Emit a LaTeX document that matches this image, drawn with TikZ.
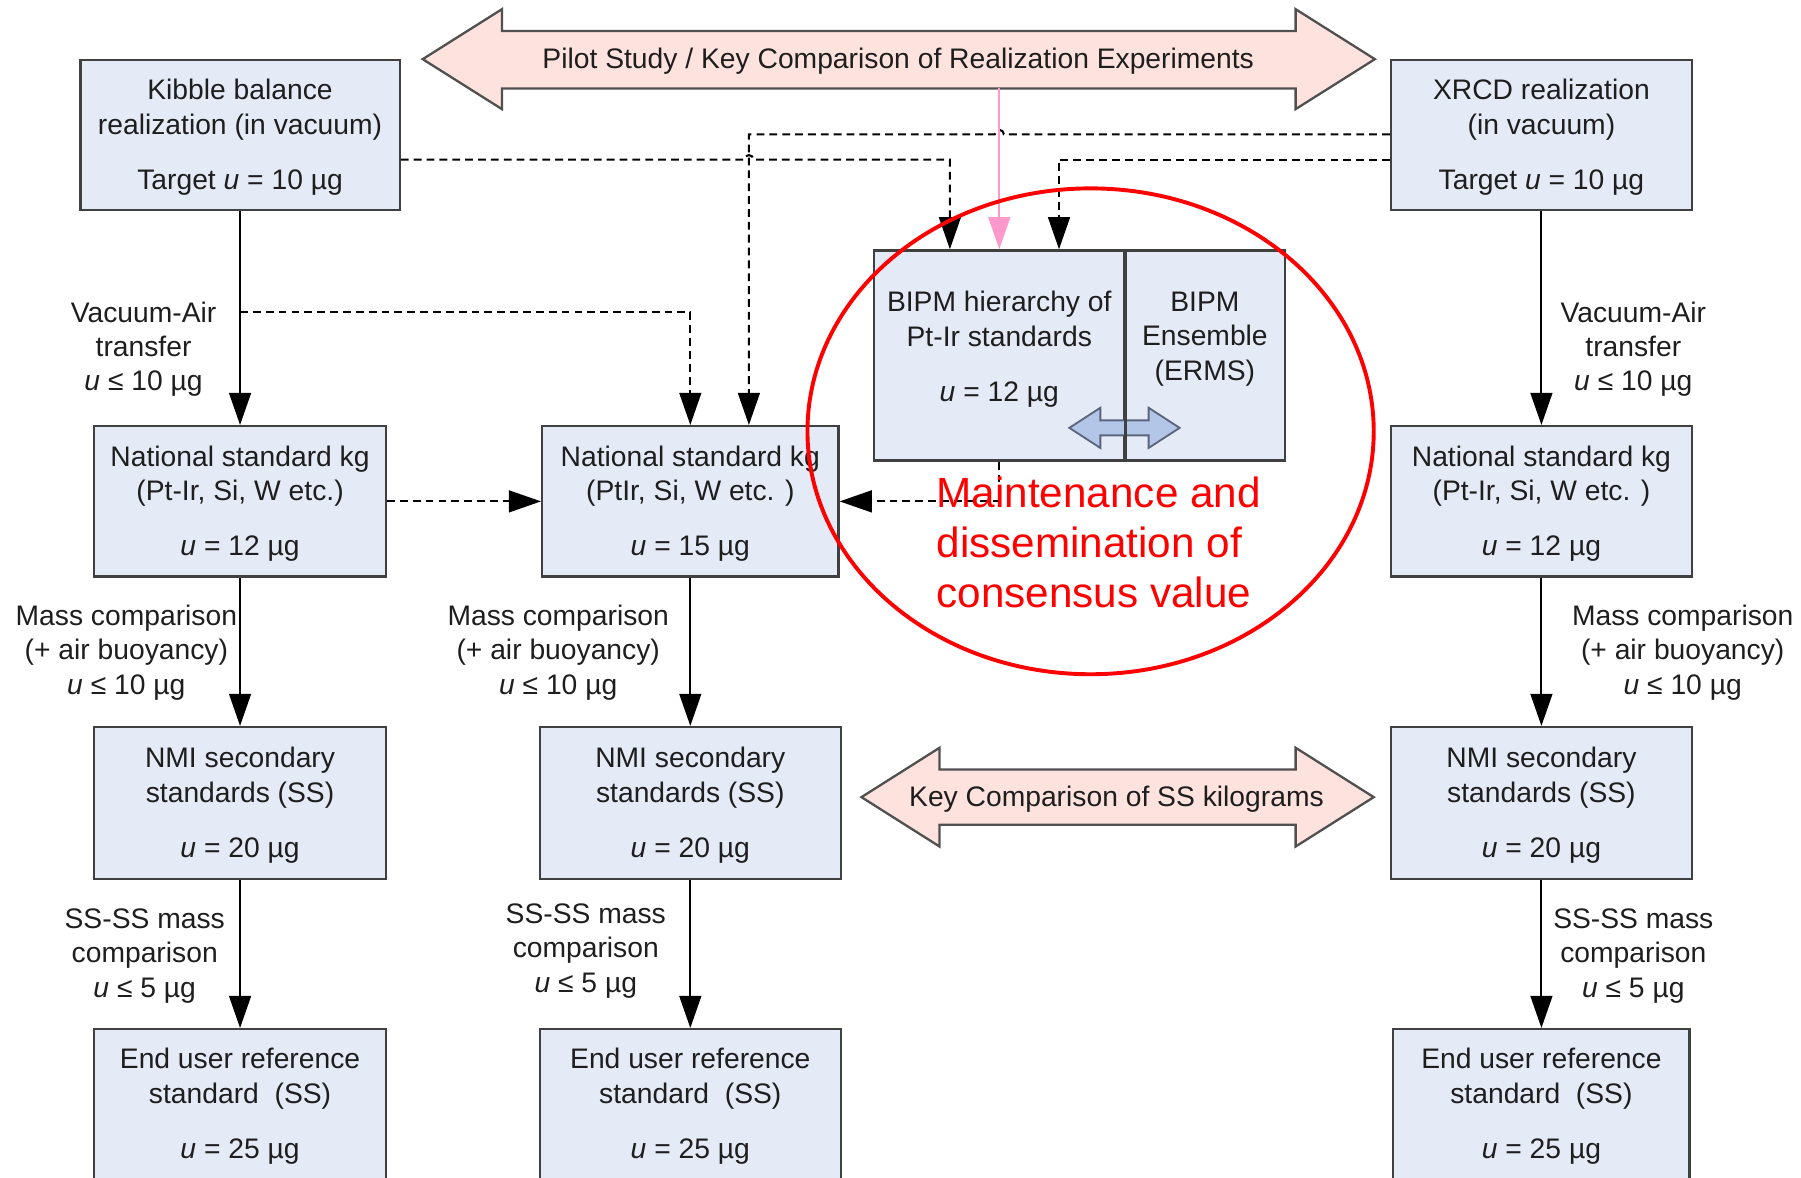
\documentclass[tikz,border=0pt]{standalone}
\usepackage{fontspec}
\setmainfont{Liberation Sans}
\usetikzlibrary{arrows.meta,fit}
\definecolor{boxfill}{RGB}{228,234,246}
\definecolor{boxline}{RGB}{64,64,64}
\definecolor{pinkfill}{RGB}{253,226,222}
\definecolor{arrline}{RGB}{80,80,80}
\definecolor{bluefill}{RGB}{180,198,231}
\definecolor{blueline}{RGB}{90,100,125}
\definecolor{pinkline}{RGB}{255,153,204}
\definecolor{txt}{RGB}{30,30,30}
\newcommand\uu{\textit{u}}
\begin{document}
\begin{tikzpicture}[x=0.5pt,y=-0.5pt,
  every node/.style={font=\fontsize{12.3pt}{15pt}\selectfont, text=txt},
  box/.style={draw=boxline, line width=1pt, fill=boxfill, inner sep=0pt},
  lbl/.style={align=center, inner sep=0pt},
  solidc/.style={draw=black, line width=0.9pt, -{Triangle[length=14pt,width=9.5pt]}},
  dashc/.style={draw=black, line width=0.9pt, dash pattern=on 3.4pt off 2.2pt, -{Triangle[length=14pt,width=9.5pt]}},
  pinkc/.style={draw=pinkline, line width=0.9pt, -{Triangle[length=14pt,width=9.5pt]}},
  bigarrow/.style={fill=pinkfill, draw=arrline, line width=1pt},
  redtext/.style={text=red, font=\fontsize{18.4pt}{21.75pt}\selectfont, align=left, inner sep=0pt}
]
\useasboundingbox (0,0) rectangle (1568,1025);
\clip (0,0) rectangle (1568,1025);

% boxes
\node[box, fit={(70,52)(348,183)}] (kib) {};
\node[box, fit={(1211,52)(1473,183)}] (xrcd) {};
\node[box, fit={(82,371)(336,502)}] (natL) {};
\node[box, fit={(472,371)(730,502)}] (natC) {};
\node[box, fit={(1211,371)(1473,502)}] (natR) {};
\node[box, fit={(82,633)(336,765)}] (nmiL) {};
\node[box, fit={(470,633)(732,765)}] (nmiC) {};
\node[box, fit={(1211,633)(1473,765)}] (nmiR) {};
\node[box, fit={(82,896)(336,1027)}] (endL) {};
\node[box, fit={(470,896)(732,1027)}] (endC) {};
\node[box, fit={(1213,896)(1471,1027)}] (endR) {};

\node[lbl] (kibt) at ([yshift=-1pt]kib.center) {Kibble balance\\realization (in vacuum)\\[9pt]Target \uu{} = 10 µg};
\node[lbl] (xrcdt) at ([yshift=-1pt]xrcd.center) {XRCD realization\\(in vacuum)\\[9pt]Target \uu{} = 10 µg};
\node[lbl] (natLt) at ([yshift=-1pt]natL.center) {National standard kg\\(Pt-Ir, Si, W etc.)\\[9pt]\uu{} = 12 µg};
\node[lbl] (natCt) at ([yshift=-1pt]natC.center) {National standard kg\\(PtIr, Si, W etc. )\\[9pt]\uu{} = 15 µg};
\node[lbl] (natRt) at ([yshift=-1pt]natR.center) {National standard kg\\(Pt-Ir, Si, W etc. )\\[9pt]\uu{} = 12 µg};
\node[lbl] (nmiLt) at ([yshift=-1pt]nmiL.center) {NMI secondary\\standards (SS)\\[9pt]\uu{} = 20 µg};
\node[lbl] (nmiCt) at ([yshift=-1pt]nmiC.center) {NMI secondary\\standards (SS)\\[9pt]\uu{} = 20 µg};
\node[lbl] (nmiRt) at ([yshift=-1pt]nmiR.center) {NMI secondary\\standards (SS)\\[9pt]\uu{} = 20 µg};
\node[lbl] (endLt) at (209,963) {End user reference\\standard~~(SS)\\[9pt]\uu{} = 25 µg};
\node[lbl] (endCt) at (601,963) {End user reference\\standard~~(SS)\\[9pt]\uu{} = 25 µg};
\node[lbl] (endRt) at (1342,963) {End user reference\\standard~~(SS)\\[9pt]\uu{} = 25 µg};

% BIPM
\node[box, fit={(761,218)(979,401)}] (bipmL) {};
\node[box, fit={(979,218)(1119,401)}] (bipmR) {};
\node[lbl] (bipmLt) at (870,304) {BIPM hierarchy of\\Pt-Ir standards\\[9pt]\uu{} = 12 µg};
\node[lbl] (bipmRt) at (1049,295) {BIPM\\Ensemble\\(ERMS)};

% big double arrows
\path[bigarrow] (368,51.5) -- (437,8) -- (437,27) -- (1128,27) -- (1128,8) -- (1197,51.5) -- (1128,95) -- (1128,77) -- (437,77) -- (437,95) -- cycle;
\node[lbl] (pilot) at (782,53) {Pilot Study / Key Comparison of Realization Experiments};
\coordinate (pilotbot) at (870,77);
\path[bigarrow] (750,694) -- (818,651) -- (818,670) -- (1128,670) -- (1128,651) -- (1196,694) -- (1128,737) -- (1128,718) -- (818,718) -- (818,737) -- cycle;
\node[lbl] (kcss) at (972,696) {Key Comparison of SS kilograms};

% labels
\node[lbl] (vaL) at (125,304) {Vacuum-Air\\transfer\\\uu{} ≤ 10 µg};
\node[lbl] (vaR) at (1422,304) {Vacuum-Air\\transfer\\\uu{} ≤ 10 µg};
\node[lbl] (mcL) at (110,568) {Mass comparison\\(+ air buoyancy)\\\uu{} ≤ 10 µg};
\node[lbl] (mcC) at (486,568) {Mass comparison\\(+ air buoyancy)\\\uu{} ≤ 10 µg};
\node[lbl] (mcR) at (1465,568) {Mass comparison\\(+ air buoyancy)\\\uu{} ≤ 10 µg};
\node[lbl] (ssL) at (126,832) {SS-SS mass\\comparison\\\uu{} ≤ 5 µg};
\node[lbl] (ssC) at (510,828) {SS-SS mass\\comparison\\\uu{} ≤ 5 µg};
\node[lbl] (ssR) at (1422,832) {SS-SS mass\\comparison\\\uu{} ≤ 5 µg};

% solid connectors
\draw[solidc] (kib.south) -- (natL.north);
\draw[solidc] (natL.south) -- (nmiL.north);
\draw[solidc] (nmiL.south) -- (endL.north);
\draw[solidc] (natC.south) -- (nmiC.north);
\draw[solidc] (nmiC.south) -- (endC.north);
\draw[solidc] (xrcd.south) -- (natR.north);
\draw[solidc] (natR.south) -- (nmiR.north);
\draw[solidc] (nmiR.south) -- (endR.north);

% dashed connectors
\coordinate (va) at (kib.south |- 0,272);
\draw[dashc] (va) -| (natC.north);
\draw[dashc] (natL.east) -- (natC.west);
\draw[dashc] (bipmL.south) |- (natC.east);
\draw[dashc] (kib.east |- 0,139) -- (648,139) arc[start angle=180,end angle=0,radius=2pt] -- (827,139) -- (bipmL.north -| 827,0);
\draw[dashc] (xrcd.west |- 0,117) -- (874,117) arc[start angle=0,end angle=180,radius=2pt] -- (652,117) -- (natC.north -| 652,0);
\draw[dashc] (xrcd.west |- 0,139) -- (922,139) -- (bipmL.north -| 922,0);
\draw[pinkc] (pilotbot) -- (bipmL.north -| pilotbot);

% small blue double arrow
\filldraw[fill=bluefill, draw=blueline, line width=0.8pt] (931,372.5) -- (958,355) -- (958,366) -- (1000,366) -- (1000,355) -- (1027,372.5) -- (1000,390) -- (1000,379) -- (958,379) -- (958,390) -- cycle;
\draw[draw=boxline, line width=1pt] (bipmL.north east) -- (bipmL.south east);

% red annotation
\draw[red, line width=1.7pt] (949.5,375.5) ellipse [x radius=123.25pt, y radius=105.75pt];
\node[redtext, anchor=north west] (maint) at (815,415) {Maintenance and\\dissemination of\\consensus value};
\end{tikzpicture}
\end{document}
